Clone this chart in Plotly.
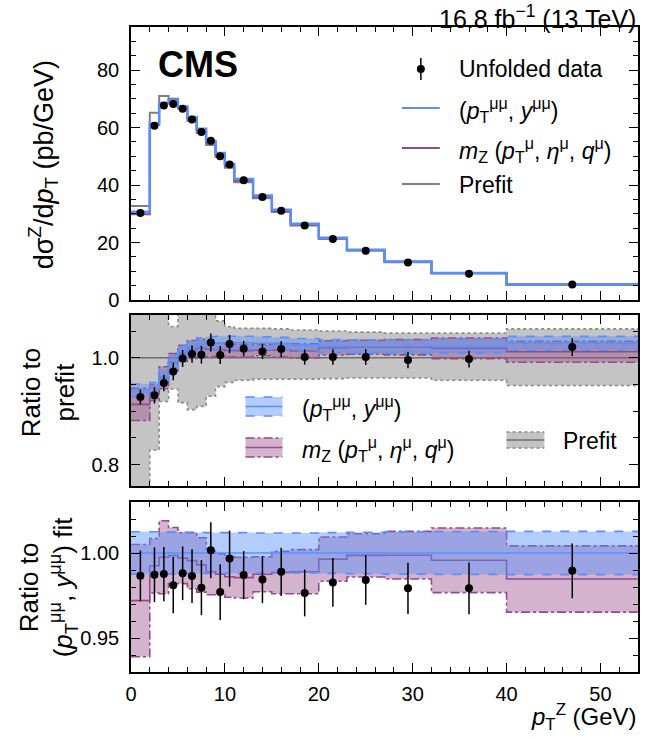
import plotly.graph_objects as go

# ---------------- data ----------------
edges = [0, 2, 3, 4, 5, 6, 7, 8, 9, 10, 11, 13, 15, 17, 20, 23, 27, 32, 40, 54]

prefit_xsec = [32.7, 65.2, 71.0, 70.0, 66.6, 62.4, 58.1, 53.9, 49.8, 46.0,
               41.0, 35.4, 30.6, 25.9, 21.2, 17.1, 13.1, 9.2, 5.3]
prefit_unc_up = [0.40, 0.20, 0.090, 0.0585, 0.090, 0.100, 0.095, 0.085, 0.069, 0.058,
                 0.055, 0.055, 0.054, 0.052, 0.050, 0.048, 0.046, 0.046, 0.054]
prefit_unc_dn = [0.40, 0.1725, 0.082, 0.0585, 0.084, 0.097, 0.091, 0.072, 0.054, 0.046,
                 0.042, 0.040, 0.040, 0.040, 0.039, 0.038, 0.038, 0.042, 0.052]

data_over_prefit = [0.9265, 0.9296, 0.9527, 0.9745, 0.9988, 1.0069, 1.0056, 1.0286, 1.005, 1.0256,
                    1.0168, 1.0118, 1.0162, 1.0013, 1.0013, 1.0013, 0.9957, 0.9975, 1.020]
data_over_blue = [0.9866, 0.9872, 0.9876, 0.9811, 0.9881, 0.9864, 0.9796, 1.0016, 0.977, 0.9967,
                  0.987, 0.9844, 0.9889, 0.9765, 0.9827, 0.9841, 0.9792, 0.9792, 0.9895]
data_rel_err = [0.0151, 0.0163, 0.0162, 0.0168, 0.016, 0.016, 0.0165, 0.0165, 0.0168, 0.0165,
                0.0143, 0.0141, 0.0144, 0.0141, 0.0146, 0.0148, 0.0154, 0.0156, 0.0163]

blue_over_prefit = [0.939, 0.942, 0.965, 0.993, 1.011, 1.020, 1.025, 1.027, 1.028, 1.028,
                    1.028, 1.027, 1.026, 1.024, 1.022, 1.021, 1.021, 1.022, 1.027]
blue_rel_unc = [0.0125, 0.0125, 0.0124, 0.0123, 0.0122, 0.0122, 0.0121, 0.012, 0.012, 0.012,
                0.012, 0.0118, 0.0118, 0.0118, 0.012, 0.0122, 0.0124, 0.0126, 0.0127]

mz_over_blue = [0.972, 0.9925, 0.9975, 0.9985, 0.997, 0.9955, 0.993, 0.989, 0.9875, 0.986,
                0.9855, 0.9875, 0.9885, 0.989, 0.9964, 0.9986, 0.9987, 0.9957, 0.9847]
mz_rel_unc = [0.033, 0.016, 0.0215, 0.0165, 0.015, 0.0165, 0.016, 0.0136, 0.012, 0.012,
              0.012, 0.0103, 0.0125, 0.013, 0.013, 0.0127, 0.014, 0.019, 0.0195]

# ---------------- derived quantities ----------------
n = len(prefit_xsec)
centers = [(edges[i] + edges[i + 1]) / 2 for i in range(n)]
data_xsec = [prefit_xsec[i] * data_over_prefit[i] for i in range(n)]
blue_xsec = [prefit_xsec[i] * blue_over_prefit[i] for i in range(n)]
mz_xsec = [blue_xsec[i] * mz_over_blue[i] for i in range(n)]
mz_over_prefit = [blue_over_prefit[i] * mz_over_blue[i] for i in range(n)]


def step(v):
    return list(v) + [v[-1]]


BLUE = "#5790fc"
MAG = "#964a8b"
GRAY = "#8a8a8a"
BLUE_F = "rgba(87,144,252,0.45)"
MAG_F = "rgba(150,74,139,0.42)"
GRAY_F = "rgb(196,196,196)"
FONT = "Liberation Sans, Arial, Helvetica, sans-serif"

fig = go.Figure()


def hline(y, xa, ya, color, width, dash="solid"):
    fig.add_trace(go.Scatter(x=edges, y=step(y), mode="lines", line_shape="hv",
                             line=dict(color=color, width=width, dash=dash),
                             xaxis=xa, yaxis=ya, hoverinfo="skip", showlegend=False))


def band(lo, hi, xa, ya, fill, color, dash):
    fig.add_trace(go.Scatter(x=edges, y=step(lo), mode="lines", line_shape="hv",
                             line=dict(color=color, width=1.6, dash=dash),
                             xaxis=xa, yaxis=ya, hoverinfo="skip", showlegend=False))
    fig.add_trace(go.Scatter(x=edges, y=step(hi), mode="lines", line_shape="hv",
                             line=dict(color=color, width=1.6, dash=dash),
                             fill="tonexty", fillcolor=fill,
                             xaxis=xa, yaxis=ya, hoverinfo="skip", showlegend=False))


def points(y, err, xa, ya):
    fig.add_trace(go.Scatter(x=centers, y=y, mode="markers",
                             marker=dict(color="black", size=8),
                             error_y=dict(type="data", array=err, color="black",
                                          thickness=1.5, width=0),
                             xaxis=xa, yaxis=ya, hoverinfo="skip", showlegend=False))


# ---- top panel ----
hline(prefit_xsec, "x", "y", "#7f7f7f", 2)
hline(mz_xsec, "x", "y", MAG, 2)
hline(blue_xsec, "x", "y", BLUE, 2.5)
points(data_xsec, [data_xsec[i] * data_rel_err[i] for i in range(n)], "x", "y")

# ---- middle panel ----
band([1 - u for u in prefit_unc_dn], [1 + u for u in prefit_unc_up], "x2", "y2", GRAY_F, GRAY, "dot")
hline([1.0] * n, "x2", "y2", "#6f6f6f", 1.5)
band([mz_over_prefit[i] * (1 - mz_rel_unc[i]) for i in range(n)],
     [mz_over_prefit[i] * (1 + mz_rel_unc[i]) for i in range(n)], "x2", "y2", MAG_F, MAG, "dashdot")
hline(mz_over_prefit, "x2", "y2", MAG, 1.6)
band([blue_over_prefit[i] * (1 - blue_rel_unc[i]) for i in range(n)],
     [blue_over_prefit[i] * (1 + blue_rel_unc[i]) for i in range(n)], "x2", "y2", BLUE_F, BLUE, "dash")
hline(blue_over_prefit, "x2", "y2", BLUE, 1.6)
points(data_over_prefit, [data_over_prefit[i] * data_rel_err[i] for i in range(n)], "x2", "y2")

# ---- bottom panel ----
band([mz_over_blue[i] - mz_rel_unc[i] for i in range(n)],
     [mz_over_blue[i] + mz_rel_unc[i] for i in range(n)], "x3", "y3", MAG_F, MAG, "dashdot")
hline(mz_over_blue, "x3", "y3", MAG, 1.6)
band([1 - u for u in blue_rel_unc], [1 + u for u in blue_rel_unc], "x3", "y3", BLUE_F, BLUE, "dash")
hline([1.0] * n, "x3", "y3", BLUE, 1.6)
points(data_over_blue, [data_over_blue[i] * data_rel_err[i] for i in range(n)], "x3", "y3")

# ---------------- layout ----------------
W, H = 646, 737
L, R, T, B = 131, 6, 27, 65
PW, PH = W - L - R, H - T - B


def px(x):
    return (x - L) / PW


def py(y):
    return (H - B - y) / PH


axis_common = dict(showline=True, linecolor="black", linewidth=1.5, mirror="allticks",
                   ticks="inside", ticklen=9, tickwidth=1.2, tickcolor="black",
                   showgrid=False, zeroline=False, ticklabelstandoff=6,
                   tickfont=dict(size=20, family=FONT, color="black"))

xcommon = dict(axis_common, range=[0, 54], tick0=0, dtick=10, ticklabelstandoff=3,
               minor=dict(ticks="inside", ticklen=5, tickwidth=1, tickcolor="black", dtick=2, tick0=0))

fig.update_layout(
    width=W, height=H, margin=dict(l=L, r=R, t=T, b=B),
    paper_bgcolor="white", plot_bgcolor="white",
    font=dict(family=FONT, color="black"),
    showlegend=False,
    xaxis=dict(xcommon, anchor="y", showticklabels=False),
    xaxis2=dict(xcommon, anchor="y2", showticklabels=False, matches="x"),
    xaxis3=dict(xcommon, anchor="y3", showticklabels=True, matches="x"),
    yaxis=dict(axis_common, domain=[py(300), 1.0], range=[0, 95], tick0=0, dtick=20,
               minor=dict(ticks="inside", ticklen=5, tickwidth=1, tickcolor="black", dtick=5, tick0=0)),
    yaxis2=dict(axis_common, domain=[py(486), py(315)], range=[0.76, 1.08], tick0=0, dtick=0.2,
                tickformat=".1f",
                minor=dict(ticks="inside", ticklen=5, tickwidth=1, tickcolor="black", dtick=0.05, tick0=0)),
    yaxis3=dict(axis_common, domain=[0.0, py(502)], range=[0.93, 1.03], tick0=0, dtick=0.05,
                tickformat=".2f",
                minor=dict(ticks="inside", ticklen=5, tickwidth=1, tickcolor="black", dtick=0.01, tick0=0)),
)

ann = []
shapes = []


def text(x, y, s, size, xanchor="left", yanchor="middle", angle=0):
    ann.append(dict(x=px(x), y=py(y), xref="paper", yref="paper", text=s, showarrow=False,
                    xanchor=xanchor, yanchor=yanchor, textangle=angle,
                    font=dict(size=size, family=FONT, color="black")))


def seg(x0, y0, x1, y1, color, width, dash="solid"):
    shapes.append(dict(type="line", xref="paper", yref="paper", x0=px(x0), y0=py(y0),
                       x1=px(x1), y1=py(y1), line=dict(color=color, width=width, dash=dash)))


def rect(x0, y0, x1, y1, fill):
    shapes.append(dict(type="rect", xref="paper", yref="paper", x0=px(x0), y0=py(y0),
                       x1=px(x1), y1=py(y1), fillcolor=fill, line=dict(width=0)))


PTMM = "(<i>p</i><sub>T</sub><sup>μμ</sup>, <i>y</i><sup>μμ</sup>)"
MZ = "<i>m</i><sub>Z</sub> (<i>p</i><sub>T</sub><sup>μ</sup>, <i>η</i><sup>μ</sup>, <i>q</i><sup>μ</sup>)"

# header texts
text(640, 17, "16.8 fb<sup>−1</sup> (13 TeV)", 25, xanchor="right")
text(156, 65, "<b>CMS</b>", 36)

# axis titles
text(43, 165, "dσ<sup>Z</sup>/d<i>p</i><sub>T</sub> (pb/GeV)", 27, xanchor="center", angle=-90)
text(48, 392, "Ratio to<br>prefit", 26, xanchor="center", angle=-90)
text(47, 587, "Ratio to<br>" + PTMM + " fit", 26, xanchor="center", angle=-90)
text(641, 736, "<i>p</i><sub>T</sub><sup>Z</sup> (GeV)", 24, xanchor="right", yanchor="bottom")

LF = 23
# top legend
seg(422, 58, 422, 80, "black", 1.5)
shapes.append(dict(type="circle", xref="paper", yref="paper", xsizemode="pixel", ysizemode="pixel",
                   xanchor=px(422), yanchor=py(69), x0=-4, x1=4, y0=-4, y1=4,
                   fillcolor="black", line=dict(color="black", width=0)))
text(458, 69, "Unfolded data", LF)
seg(403, 108, 441, 108, BLUE, 2)
text(458, 110, PTMM, LF)
seg(403, 148, 441, 148, MAG, 2)
text(458, 150, MZ, LF)
seg(403, 184, 441, 184, "#7f7f7f", 2)
text(458, 185, "Prefit", LF)

# middle legend
rect(246, 397, 283, 416, BLUE_F)
seg(246, 397, 283, 397, BLUE, 1.6, "dash")
seg(246, 416, 283, 416, BLUE, 1.6, "dash")
seg(246, 406.5, 283, 406.5, BLUE, 1.6)
text(301, 408, PTMM, LF)

rect(246, 438, 283, 457, MAG_F)
seg(246, 438, 283, 438, MAG, 1.6, "dashdot")
seg(246, 457, 283, 457, MAG, 1.6, "dashdot")
seg(246, 447.5, 283, 447.5, MAG, 1.6)
text(301, 449, MZ, LF)

rect(508, 432, 546, 448, GRAY_F)
seg(508, 432, 546, 432, GRAY, 1.4, "dot")
seg(508, 448, 546, 448, GRAY, 1.4, "dot")
seg(508, 440, 546, 440, "#6f6f6f", 1.5)
text(563, 441, "Prefit", LF)

fig.update_layout(annotations=ann, shapes=shapes)

fig.write_html("out.html", config={"displayModeBar": False},
               post_script="document.body.style.margin='0px';document.body.style.padding='0px';"
                           "document.body.style.overflow='hidden';")
